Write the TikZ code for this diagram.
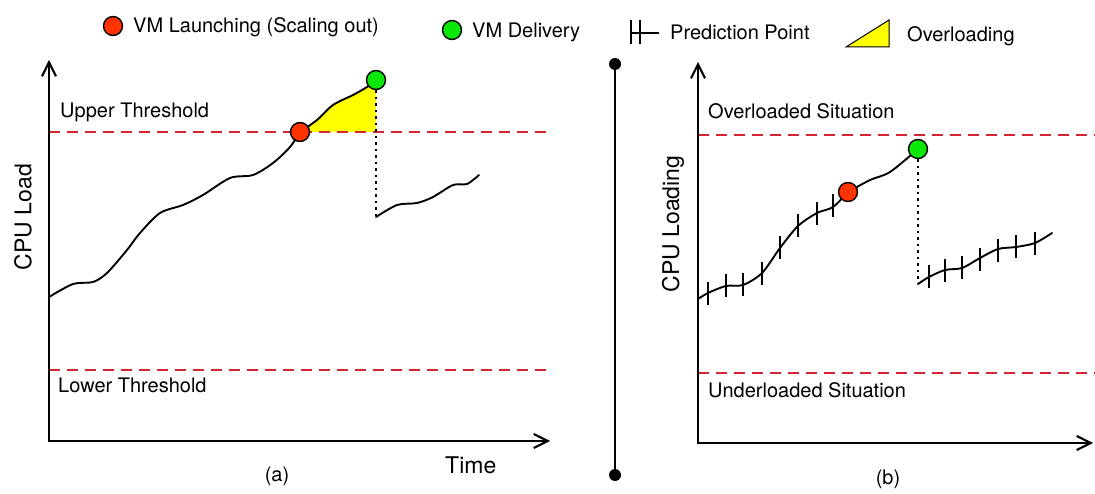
\documentclass[tikz,border=0pt]{standalone}
\usepackage{fontspec}
\setmainfont{TeX Gyre Heros}
\usetikzlibrary{arrows.meta}
\definecolor{launchred}{RGB}{255,51,0}
\definecolor{delivgreen}{RGB}{10,232,10}
\definecolor{threshred}{RGB}{210,38,50}
\definecolor{overyellow}{RGB}{255,255,0}

\begin{document}
\begin{tikzpicture}[x=1pt,y=-1pt,
  axis/.style={line width=2.1pt,{Straight Barb[length=14pt,width=14pt]}-{Straight Barb[length=14pt,width=14pt]}},
  load/.style={line width=1.9pt,line join=round,line cap=round},
  thresh/.style={threshred,line width=1.7pt,dash pattern=on 11pt off 7pt},
  dropline/.style={line width=2.1pt,dash pattern=on 2.5pt off 4pt},
  dot/.style={circle,draw,line width=1.4pt,minimum size=19pt,inner sep=0pt},
  launch/.style={dot,fill=launchred},
  deliver/.style={dot,fill=delivgreen},
  tickmark/.style={line width=1.8pt},
  lbl/.style={font=\fontsize{20}{24}\selectfont,inner sep=0pt},
  axlbl/.style={font=\fontsize{23}{27}\selectfont,inner sep=0pt},
  endcap/.style={circle,fill,minimum size=12pt,inner sep=0pt},
]
\useasboundingbox (0,0) rectangle (1095,494);

% ---------- legend ----------
\node[launch] (legL) at (113,26) {};
\node[lbl,anchor=base west] (legLt) at (133,33) {VM Launching (Scaling out)};
\node[deliver] (legD) at (452,30) {};
\node[lbl,anchor=base west] (legDt) at (472,38) {VM Delivery};
\draw[tickmark] (631,20) -- (631,44) (640,20) -- (640,44) (631,33) -- (659,33);
\node[lbl,anchor=base west] (legPt) at (670,40) {Prediction Point};
\draw[fill=overyellow,line width=1pt] (846,47) -- (889,47) -- (889,20) -- cycle;
\node[lbl,anchor=base west] (legOt) at (907,42) {Overloading};

% ---------- panel (a) ----------
\coordinate (aO) at (49,441);
\coordinate (aY) at (49,60);
\coordinate (aX) at (550,441);
\fill[overyellow] plot[smooth] coordinates {(300,132) (317,120) (333,105) (353,95) (367,87) (376,80)} -- (376,132) -- cycle;
\draw[thresh] (49,132) -- (548,132);
\draw[thresh] (49,370) -- (548,370);
\node[lbl,anchor=base west] (upT) at (60,118) {Upper Threshold};
\node[lbl,anchor=base west] (loT) at (58,392) {Lower Threshold};
\draw[axis] (aY) -- (aO) -- (aX);
\node[axlbl,rotate=90] (aylab) at (23,217) {CPU Load};
\node[axlbl,anchor=base west] (axlab) at (445,473) {Time};
\node[lbl] (acap) at (277,476) {(a)};

\draw[load] plot[smooth] coordinates {(49,297) (73,284) (93,282) (107,273) (127,250) (140,233) (160,213) (183,205) (203,195) (230,178) (253,175) (273,163) (290,147) (300,132)};
\draw[load] plot[smooth] coordinates {(300,132) (317,120) (333,105) (353,95) (367,87) (376,80)};
\coordinate (aDrop) at (376,217);
\draw[load] plot[smooth] coordinates {(376,217) (397,205) (417,203) (433,197) (453,185) (467,184) (479,175)};
\node[launch] (aL) at (300,132) {};
\node[deliver] (aD) at (376,80) {};
\draw[dropline] (aD.south) -- (aDrop);

% ---------- separator ----------
\node[endcap] (sTop) at (615,64) {};
\node[endcap] (sBot) at (615,475) {};
\draw[line width=2pt] (sTop) -- (sBot);

% ---------- panel (b) ----------
\coordinate (bO) at (698,443);
\coordinate (bY) at (698,62);
\coordinate (bX) at (1093,443);
\draw[thresh] (698,135) -- (1095,135);
\draw[thresh] (698,373) -- (1095,373);
\node[lbl,anchor=base west] (ovS) at (708,119) {Overloaded Situation};
\node[lbl,anchor=base west] (unS) at (708,397) {Underloaded Situation};
\draw[axis] (bY) -- (bO) -- (bX);
\node[axlbl,rotate=90] (bylab) at (673,224) {CPU Loading};
\node[lbl] (bcap) at (888,479) {(b)};

\draw[load] plot[smooth] coordinates {(698,299) (708,293) (726,286) (743,285) (762,273) (780,248) (798,226) (817,213) (833,207) (848,192)};
\draw[load] plot[smooth] coordinates {(848,192) (870,180) (890,172) (918,149)};
\coordinate (bDrop) at (918,284);
\draw[load] plot[smooth] coordinates {(918,284) (929,277) (945,270) (962,268) (980,258) (998,249) (1016,247) (1035,243) (1052,233)};
\foreach \px/\py in {708/294,726/286,743/285,762/274,780/248,798/226,817/214,833/206,
                     929/277,945/271,962/268,980/260,998/251,1016/247,1035/244}
  \draw[tickmark] (\px,\py) ++(0,-11.5) -- ++(0,23);
\node[launch] (bL) at (848,192) {};
\node[deliver] (bD) at (918,149) {};
\draw[dropline] (bD.south) -- (bDrop);
\end{tikzpicture}
\end{document}
